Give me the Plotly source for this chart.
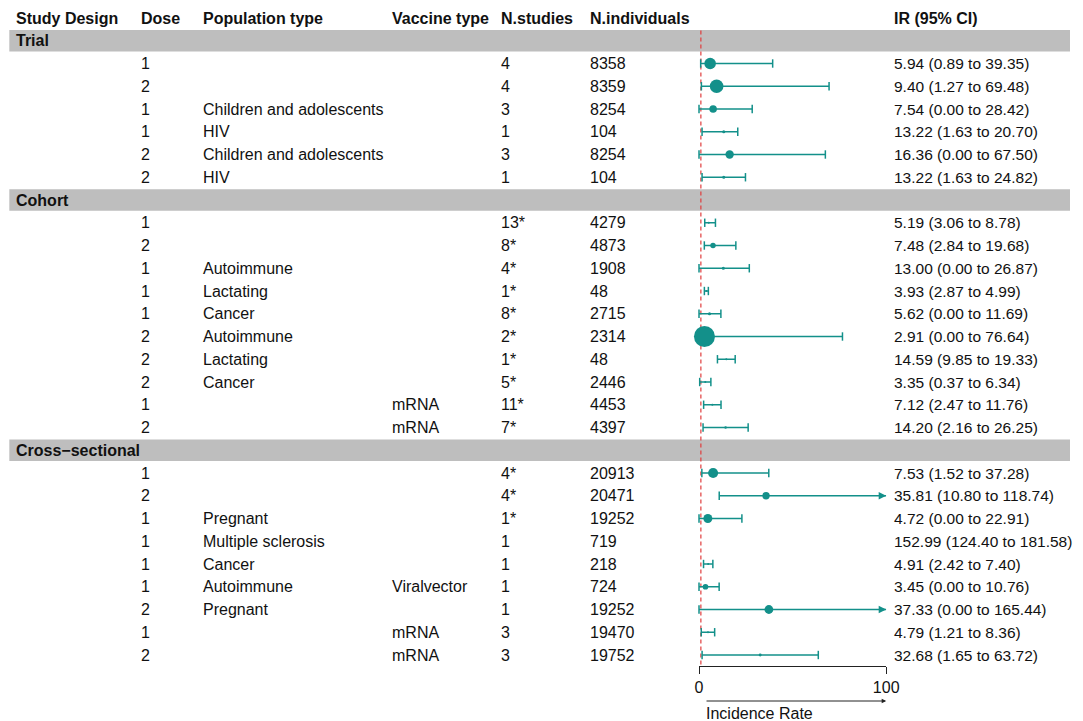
import plotly.graph_objects as go

# ---------------- data ----------------
groups = ["Trial", "Cohort", "Cross\u2212sectional"]

group_of = (["Trial"] * 6) + (["Cohort"] * 10) + (["Cross\u2212sectional"] * 9)
dose = [1, 2, 1, 1, 2, 2,
        1, 2, 1, 1, 1, 2, 2, 2, 1, 2,
        1, 2, 1, 1, 1, 1, 2, 1, 2]
population = ["", "", "Children and adolescents", "HIV", "Children and adolescents", "HIV",
              "", "", "Autoimmune", "Lactating", "Cancer", "Autoimmune", "Lactating", "Cancer", "", "",
              "", "", "Pregnant", "Multiple sclerosis", "Cancer", "Autoimmune", "Pregnant", "", ""]
vaccine = ["", "", "", "", "", "",
           "", "", "", "", "", "", "", "", "mRNA", "mRNA",
           "", "", "", "", "", "Viralvector", "", "mRNA", "mRNA"]
n_studies = ["4", "4", "3", "1", "3", "1",
             "13*", "8*", "4*", "1*", "8*", "2*", "1*", "5*", "11*", "7*",
             "4*", "4*", "1*", "1", "1", "1", "1", "3", "3"]
n_individuals = [8358, 8359, 8254, 104, 8254, 104,
                 4279, 4873, 1908, 48, 2715, 2314, 48, 2446, 4453, 4397,
                 20913, 20471, 19252, 719, 218, 724, 19252, 19470, 19752]
ir_est = [5.94, 9.40, 7.54, 13.22, 16.36, 13.22,
          5.19, 7.48, 13.00, 3.93, 5.62, 2.91, 14.59, 3.35, 7.12, 14.20,
          7.53, 35.81, 4.72, 152.99, 4.91, 3.45, 37.33, 4.79, 32.68]
ir_low = [0.89, 1.27, 0.00, 1.63, 0.00, 1.63,
          3.06, 2.84, 0.00, 2.87, 0.00, 0.00, 9.85, 0.37, 2.47, 2.16,
          1.52, 10.80, 0.00, 124.40, 2.42, 0.00, 0.00, 1.21, 1.65]
ir_high = [39.35, 69.48, 28.42, 20.70, 67.50, 24.82,
           8.78, 19.68, 26.87, 4.99, 11.69, 76.64, 19.33, 6.34, 11.76, 26.25,
           37.28, 118.74, 22.91, 181.58, 7.40, 10.76, 165.44, 8.36, 63.72]
# relative study weight (0-1), estimated from point sizes
weight = [0.55, 0.65, 0.36, 0.15, 0.40, 0.15,
          0.08, 0.26, 0.15, 0.05, 0.15, 1.00, 0.03, 0.10, 0.10, 0.12,
          0.48, 0.35, 0.43, 0.0, 0.05, 0.27, 0.42, 0.05, 0.14]

header_labels = ["Study Design", "Dose", "Population type", "Vaccine type",
                 "N.studies", "N.individuals", "IR (95% CI)"]
x_ticks = [0, 100]
x_title = "Incidence Rate"

# ---------------- layout constants ----------------
W, H = 1083, 721
SC, OFF = 0.9833, 3.7          # observed horizontal mapping of the rendered page


def p(t):
    """target picture x -> paper pixel"""
    return (t - OFF) / SC


ROW0_PX, ROW_PX = 18, 22.75
AXIS_PX = 666
X_MIN, X_MAX = 0, 100
XL_T, XR_T = 698, 885
XL_PX, XR_PX = p(XL_T), p(XR_T)
text_start = [16, 141, 202, 391, 500, 589, 893]
col_px = [p(t - 2) for t in text_start]
TEAL = "#13908A"
FONT = "Liberation Sans, Arial, Helvetica, sans-serif"
FS = 16
FS_IR = 15.5


def xu(t):
    """target picture x -> x-axis data units"""
    return (p(t) - XL_PX) / (XR_PX - XL_PX) * (X_MAX - X_MIN) + X_MIN


row_of = []
band_rows = []
r = 1
prev = None
for g in group_of:
    if g != prev:
        band_rows.append((g, r))
        r += 1
        prev = g
    row_of.append(r)
    r += 1
n_rows = r

fig = go.Figure()

lx, ly = [], []
cap_x, cap_y = [], []
pt_x, pt_y, pt_s = [], [], []
arrows = []
for i in range(len(ir_est)):
    lo, hi, est, rr = ir_low[i], ir_high[i], ir_est[i], row_of[i]
    if lo > X_MAX:
        continue
    hi_c = min(hi, X_MAX)
    lx += [lo, hi_c, None]
    ly += [rr, rr, None]
    cap_x.append(lo); cap_y.append(rr)
    if hi <= X_MAX:
        cap_x.append(hi); cap_y.append(rr)
    else:
        arrows.append((hi_c, rr))
    if est <= X_MAX and weight[i] > 0:
        pt_x.append(est); pt_y.append(rr); pt_s.append(max(2, weight[i] * 21))

fig.add_trace(go.Scatter(x=lx, y=ly, mode="lines", line=dict(color=TEAL, width=1.6),
                         hoverinfo="skip", showlegend=False, cliponaxis=False))
fig.add_trace(go.Scatter(x=cap_x, y=cap_y, mode="markers",
                         marker=dict(symbol="line-ns", size=6, opacity=1, line=dict(color=TEAL, width=1.5)),
                         hoverinfo="skip", showlegend=False, cliponaxis=False))
fig.add_trace(go.Scatter(x=pt_x, y=pt_y, mode="markers",
                         marker=dict(symbol="circle", size=pt_s, color=TEAL, opacity=1, line=dict(width=0)),
                         showlegend=False, cliponaxis=False))

annotations = []
for (xa, ya) in arrows:
    annotations.append(dict(x=xa, y=ya, xref="x", yref="y", ax=xa - 4, ay=ya, axref="x", ayref="y",
                            text="", font=dict(size=1), showarrow=True, arrowhead=2, arrowsize=1,
                            arrowwidth=1.5, arrowcolor=TEAL, standoff=0))


def txt(xpx, row, s, bold=False, size=FS):
    annotations.append(dict(x=xpx / W, y=row, xref="paper", yref="y", text=f"<b>{s}</b>" if bold else s,
                            showarrow=False, xanchor="left", yanchor="middle",
                            font=dict(family=FONT, size=size, color="#111111")))


for c, lab in enumerate(header_labels):
    txt(col_px[c], 0, lab, bold=True)
for g, rr in band_rows:
    txt(col_px[0], rr, g, bold=True)
for i in range(len(ir_est)):
    rr = row_of[i]
    txt(col_px[1], rr, str(dose[i]))
    if population[i]:
        txt(col_px[2], rr, population[i])
    if vaccine[i]:
        txt(col_px[3], rr, vaccine[i])
    txt(col_px[4], rr, n_studies[i])
    txt(col_px[5], rr, str(n_individuals[i]))
    txt(col_px[6], rr, f"{ir_est[i]:.2f} ({ir_low[i]:.2f} to {ir_high[i]:.2f})", size=FS_IR)

# direction arrows and axis title under the axis
y_arrow = (H - 701) / H
annotations.append(dict(x=xu(885), y=y_arrow, xref="x", yref="paper",
                        ax=xu(704), ay=0, axref="x", ayref="pixel",
                        text="", font=dict(size=1), showarrow=True, arrowhead=2, arrowsize=0.9,
                        arrowwidth=1, arrowcolor="#222222", standoff=0))
annotations.append(dict(x=xu(703), y=(H - 713) / H, xref="x", yref="paper",
                        text=x_title, showarrow=False, xanchor="left", yanchor="middle",
                        font=dict(family=FONT, size=FS, color="#111111")))

shapes = []
for g, rr in band_rows:
    shapes.append(dict(type="rect", xref="paper", yref="y", x0=p(9) / W, x1=1, y0=rr - 0.47, y1=rr + 0.47,
                       fillcolor="#BEBEBE", line=dict(width=0), layer="below"))
shapes.append(dict(type="line", xref="x", yref="y", x0=1, x1=1, y0=0.55, y1=n_rows - 0.5,
                   line=dict(color="#E03C3C", width=1.2, dash="4px,3px"), layer="below"))
# small left-pointing arrow under the axis
shapes.append(dict(type="line", xref="x", yref="paper", x0=xu(697), x1=xu(690), y0=y_arrow, y1=y_arrow,
                   line=dict(color="#222222", width=1)))
dy = 2.2 / H
shapes.append(dict(type="path", xref="x", yref="paper",
                   path=f"M {xu(686.5)},{y_arrow} L {xu(691.5)},{y_arrow + dy} L {xu(691.5)},{y_arrow - dy} Z",
                   fillcolor="#222222", line=dict(color="#222222", width=0.5)))

y_top = -ROW0_PX / ROW_PX
y_bot = (AXIS_PX - ROW0_PX) / ROW_PX

fig.update_layout(
    width=W, height=H, margin=dict(l=0, r=0, t=0, b=0), autosize=False,
    plot_bgcolor="white", paper_bgcolor="white",
    font=dict(family=FONT, size=FS, color="#111111"),
    xaxis=dict(domain=[XL_PX / W, XR_PX / W], range=[X_MIN, X_MAX], tickvals=x_ticks,
               showline=True, linecolor="#222222", linewidth=1, ticks="outside", ticklen=7,
               tickcolor="#222222", showgrid=False, zeroline=False,
               tickfont=dict(family=FONT, size=FS, color="#111111")),
    yaxis=dict(domain=[(H - AXIS_PX) / H, 1], range=[y_bot, y_top], visible=False,
               showgrid=False, zeroline=False),
    annotations=annotations, shapes=shapes, showlegend=False,
)

post = ("document.documentElement.style.overflow='hidden';"
        "document.body.style.margin='0';document.body.style.overflow='hidden';")
fig.write_html("out.html", config={"displayModeBar": False, "responsive": False}, post_script=post)
